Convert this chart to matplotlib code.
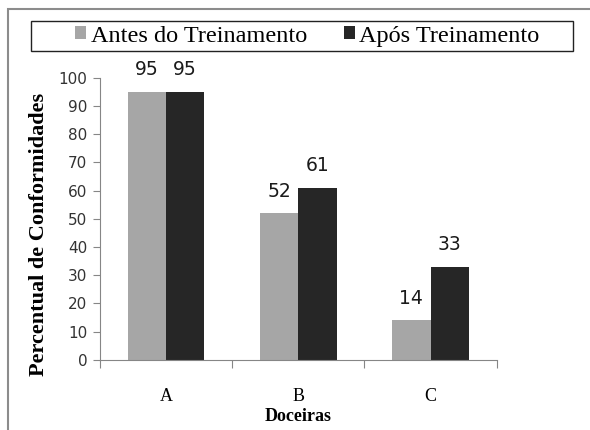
import numpy as np
import matplotlib.pyplot as plt
from matplotlib.patches import Rectangle

# data
categorias = ['A', 'B', 'C']
antes = [95, 52, 14]
apos = [95, 61, 33]
series = ['Antes do Treinamento', 'Após Treinamento']

cor_antes = '#a6a6a6'
cor_apos = '#262626'
serif = ['Liberation Serif', 'DejaVu Serif']

fig = plt.figure(figsize=(5.9, 4.3), dpi=100)
ax = fig.add_axes([0.169, 0.163, 0.673, 0.656])

# outer frame of the chart
fig.patches.append(Rectangle((8 / 590, -0.05), 1.2, 1 - 9 / 430 + 0.05,
                             transform=fig.transFigure, fill=False,
                             edgecolor='#8c8c8c', linewidth=1.5))
# legend box
fig.patches.append(Rectangle((31 / 590, 1 - 51 / 430), 542 / 590, 30 / 430,
                             transform=fig.transFigure, fill=False,
                             edgecolor='#222222', linewidth=1.0))

x = np.arange(len(categorias))
w = 0.29
b1 = ax.bar(x - w / 2, antes, w, color=cor_antes, label=series[0])
b2 = ax.bar(x + w / 2, apos, w, color=cor_apos, label=series[1])

for bars in (b1, b2):
    for r in bars:
        ax.text(r.get_x() + r.get_width() / 2, r.get_height() + 4.5,
                '%d' % r.get_height(), ha='center', va='bottom',
                fontsize=13.5, family='DejaVu Sans', color='#1a1a1a',
                clip_on=False)

ax.set_xlim(-0.5, 2.5)
ax.set_ylim(0, 100)
ax.set_yticks(range(0, 101, 10))
ax.set_xticks([-0.5, 0.5, 1.5, 2.5], minor=False)
ax.set_xticklabels([])
ax.set_xticks(x, minor=True)
ax.set_xticklabels(categorias, minor=True, family=serif, fontsize=13)
ax.tick_params(axis='x', which='major', length=6, direction='out', color='#868686')
ax.tick_params(axis='x', which='minor', length=0, pad=20)
ax.tick_params(axis='y', length=5, direction='out', color='#868686', labelsize=11,
               pad=4, labelcolor='#333333')

for s in ('top', 'right'):
    ax.spines[s].set_visible(False)
for s in ('left', 'bottom'):
    ax.spines[s].set_color('#868686')

ax.set_ylabel('Percentual de Conformidades', family=serif, fontweight='bold',
              fontsize=16)
ax.set_xlabel('Doceiras', family=serif, fontweight='bold', fontsize=13)
ax.xaxis.set_label_coords(0.5, -0.17)
ax.yaxis.set_label_coords(-0.128, 0.445)

fig.legend(handles=[b1, b2], loc='center', bbox_to_anchor=(0.521, 0.916),
           ncol=2, frameon=False, prop={'family': serif, 'size': 17.5},
           handlelength=0.45, handleheight=0.45, handletextpad=0.2,
           columnspacing=1.5, borderpad=0, borderaxespad=0)

fig.savefig('out.png', dpi=100)
